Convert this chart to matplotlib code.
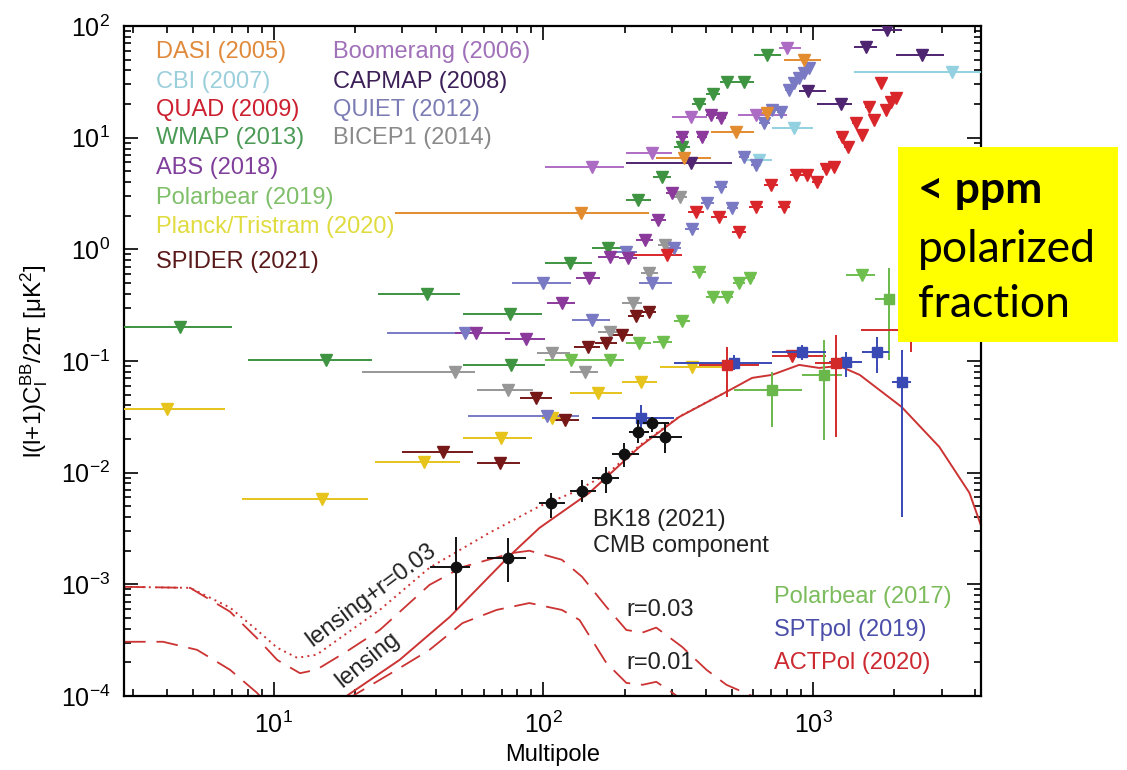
import matplotlib
matplotlib.use("Agg")
import matplotlib.pyplot as plt
import numpy as np
from matplotlib.patches import Rectangle
from matplotlib.ticker import NullFormatter, LogLocator, FixedLocator

plt.rcParams['font.family'] = ['Liberation Sans', 'DejaVu Sans']
plt.rcParams['mathtext.fontset'] = 'custom'
plt.rcParams['mathtext.rm'] = 'Liberation Sans'
plt.rcParams['mathtext.it'] = 'Liberation Sans:italic'
plt.rcParams['mathtext.sf'] = 'Liberation Sans'

# ---------------- upper limits (triangles): ell, D, ell_lo, ell_hi ----------------
WMAP_ell = [4.49, 15.6, 36.9, 74.9, 75.5, 125, 174, 225, 276, 327, 378, 426, 480, 555, 676]
WMAP_D = [0.202, 0.102, 0.399, 0.264, 0.092, 0.755, 1.03, 2.77, 4.45, 8.25, 20.0, 24.6, 31.5, 31.5, 55.0]
WMAP_lo = [2.5, 8.0, 24.3, 50.1, 50.1, 101, 152, 203, 255, 305, 355, 400, 450, 520, 604]
WMAP_hi = [6.98, 23.1, 48.9, 99, 101, 151, 203, 250, 298, 350, 400, 452, 520, 604, 761]

PB19_ell = [127, 176, 227, 278, 327, 378, 426, 480, 532, 584, 1518]
PB19_D = [0.102, 0.102, 0.145, 0.148, 0.229, 0.628, 0.375, 0.375, 0.50, 0.555, 0.59]
PB19_lo = [101, 151, 203, 255, 305, 355, 400, 455, 505, 560, 1324]
PB19_hi = [151, 199, 250, 300, 350, 400, 455, 505, 560, 610, 1700]

PLANCK_ell = [4.02, 15.1, 35.9, 69.3, 108, 160, 231, 356]
PLANCK_D = [0.0372, 0.0058, 0.0125, 0.0205, 0.031, 0.0518, 0.065, 0.0886]
PLANCK_lo = [2.5, 7.6, 23.7, 50.1, 99, 125, 196, 270]
PLANCK_hi = [6.59, 22.3, 48.9, 90.3, 117, 196, 264, 480]

SPIDER_ell = [42.3, 68.7, 94.2, 120, 146, 171, 196, 221, 247]
SPIDER_D = [0.0153, 0.0122, 0.0468, 0.0297, 0.134, 0.145, 0.171, 0.254, 0.275]
SPIDER_lo = [29.8, 56.5, 81.5, 108, 130, 155, 180, 205, 232]
SPIDER_hi = [54.6, 81.5, 108, 135, 162, 188, 214, 236, 262]

BICEP1_ell = [46.8, 73.6, 108, 142, 176, 214, 247, 283, 322]
BICEP1_D = [0.0798, 0.0551, 0.118, 0.0798, 0.182, 0.331, 0.615, 1.09, 2.94]
BICEP1_lo = [21.2, 56.5, 95, 125, 160, 196, 230, 265, 305]
BICEP1_hi = [55.5, 91.1, 125, 160, 192, 232, 265, 303, 340]

QUIET_ell = [51.0, 100, 103, 152, 203, 253, 306, 356, 405, 456, 501, 555, 615, 659, 705, 761, 815, 851, 888, 927, 966]
QUIET_D = [0.178, 0.50, 0.0322, 0.233, 0.948, 0.50, 1.03, 1.52, 2.60, 3.62, 2.35, 6.71, 5.70, 13.5, 17.7, 17.0, 26.7, 30.9, 34.2, 37.9, 42.1]
QUIET_lo = [26.2, 76.7, 52.3, 128, 185, 227, 290, 335, 385, 430, 480, 530, 590, 630, 680, 735, 790, 825, 860, 900, 940]
QUIET_hi = [56, 127, 136, 176, 222, 301, 325, 378, 430, 480, 525, 580, 640, 690, 735, 790, 840, 875, 915, 955, 995]

ABS_ell = [56.0, 85.8, 117, 147, 176, 206, 237, 267, 301, 327, 388, 419, 456]
ABS_D = [0.178, 0.158, 0.331, 0.555, 0.855, 0.838, 1.21, 1.83, 3.20, 10.1, 10.1, 16.0, 15.0]
ABS_lo = [47, 71.7, 103, 132, 160, 190, 220, 250, 285, 310, 370, 400, 437]
ABS_hi = [75, 101, 131, 162, 190, 222, 255, 285, 318, 345, 405, 437, 475]

BOOM_ell = [151, 253, 353, 615, 802]
BOOM_D = [5.47, 7.29, 15.3, 16.0, 63.6]
BOOM_lo = [101, 203, 301, 527, 745]
BOOM_hi = [199, 301, 405, 802, 905]

CAPMAP_ell = [353, 958, 1270, 1570, 1878, 2535]
CAPMAP_D = [5.93, 26.1, 20.0, 64.9, 92.0, 55.0]
CAPMAP_lo = [203, 888, 1030, 1420, 1660, 2028]
CAPMAP_hi = [501, 1117, 1400, 1725, 2136, 3050]

DASI_ell = [138, 333, 519, 676, 927]
DASI_D = [2.12, 6.58, 11.2, 16.6, 49.6]
DASI_lo = [28.1, 262, 419, 640, 781]
DASI_hi = [247, 419, 604, 710, 1070]

CBI_ell = [631, 851, 3275]
CBI_D = [6.31, 12.2, 38.7]
CBI_lo = [555, 705, 1420]
CBI_hi = [705, 1000, 4500]

QUAD_ell = [288, 369, 449, 532, 615, 699, 781, 865, 950, 1035, 1117, 1197, 1280, 1349, 1443, 1518, 1611, 1682, 1785, 1863, 1945, 2028]
QUAD_D = [0.891, 2.16, 1.95, 1.43, 2.40, 3.77, 2.40, 4.63, 4.63, 4.01, 5.25, 5.47, 10.1, 8.25, 13.5, 10.6, 18.8, 14.4, 30.9, 17.7, 20.9, 22.7]
QUAD_lo = [206, 345, 420, 500, 580, 660, 740, 820, 905, 990, 1075, 1160, 1240, 1300, 1400, 1480, 1560, 1640, 1740, 1820, 1900, 1980]
QUAD_hi = [327, 395, 480, 565, 650, 740, 820, 905, 990, 1075, 1160, 1240, 1320, 1400, 1480, 1560, 1640, 1720, 1820, 1900, 1980, 2080]

ACTLIM_ell = [836]
ACTLIM_D = [0.112]
ACTLIM_lo = [705]
ACTLIM_hi = [1117]

# ---------------- detections (squares / circles) ----------------
SPT_ell = [231, 509, 911, 1324, 1725, 2136]
SPT_D = [0.031, 0.096, 0.121, 0.098, 0.121, 0.065]
SPT_xlo = [152, 306, 705, 1143, 1518, 1960]
SPT_xhi = [306, 705, 1117, 1518, 1910, 2300]
SPT_ylo = [0.0242, 0.0832, 0.102, 0.0721, 0.0782, 0.00402]
SPT_yhi = [0.0405, 0.1135, 0.139, 0.121, 0.164, 0.126]

ACT_ell = [480, 1216, 2300]
ACT_D = [0.092, 0.096, 0.19]
ACT_xlo = [378, 1020, 1500]
ACT_xhi = [631, 1400, 3000]
ACT_ylo = [0.0477, 0.0209, 0.12]
ACT_yhi = [0.134, 0.171, 0.28]

PB17_ell = [705, 1099, 1910]
PB17_D = [0.0551, 0.0751, 0.36]
PB17_xlo = [509, 911, 1700]
PB17_xhi = [911, 1280, 1960]
PB17_ylo = [0.0257, 0.0197, 0.102]
PB17_yhi = [0.0798, 0.155, 0.68]

BK_ell = [47.2, 73.6, 107, 139, 170, 199, 225, 253, 283]
BK_D = [1.43e-3, 1.73e-3, 5.37e-3, 6.87e-3, 8.98e-3, 0.0147, 0.0232, 0.0279, 0.0209]
BK_xlo = [37.8, 61.5, 96.6, 125, 152, 179, 208, 233, 247]
BK_xhi = [53.2, 86.5, 120, 156, 191, 227, 247, 293, 327]
BK_ylo = [5.9e-4, 1.05e-3, 3.94e-3, 5.48e-3, 6.59e-3, 0.0113, 0.0185, 0.0232, 0.015]
BK_yhi = [2.66e-3, 2.61e-3, 6.59e-3, 8.6e-3, 0.0113, 0.0185, 0.0297, 0.0316, 0.0279]

# ---------------- theory curves ----------------
LENS_ell = [17.5, 18.6, 29.3, 44.9, 73.6, 96.6, 148, 227, 319, 477, 594, 703, 888, 1053, 1250, 1490, 2130, 2940, 3800, 4190]
LENS_D = [8.8e-5, 1.0e-4, 2.11e-4, 5.1e-4, 1.73e-3, 3.2e-3, 6.6e-3, 0.017, 0.0316, 0.0529, 0.0706, 0.0751, 0.0923, 0.0867, 0.0904, 0.0751, 0.0388, 0.017, 6.6e-3, 3.4e-3]

LR03_ell = [2.78, 4.89, 6.87, 8.65, 10.3, 12.2, 14.4, 18.3, 24.7, 37.8, 63.1, 96.6, 128, 171, 227, 319, 477]
LR03_D = [9.5e-4, 9.3e-4, 6.2e-4, 3.9e-4, 2.7e-4, 2.2e-4, 2.34e-4, 3.53e-4, 5.9e-4, 1.41e-3, 2.9e-3, 5.0e-3, 6.6e-3, 9.6e-3, 0.0175, 0.0318, 0.053]

R03_ell = [2.78, 4.89, 6.87, 8.65, 10.3, 12.5, 14.4, 18.6, 24.7, 37.8, 50.1, 76.8, 88.7, 117, 139, 171, 203, 233, 262, 327, 402, 477, 594, 640]
R03_D = [9.5e-4, 9.3e-4, 5.7e-4, 3.3e-4, 2.1e-4, 1.6e-4, 1.72e-4, 2.5e-4, 3.9e-4, 9.9e-4, 1.43e-3, 1.91e-3, 2.0e-3, 1.66e-3, 1.17e-3, 6.3e-4, 3.9e-4, 3.7e-4, 4.1e-4, 2.75e-4, 1.72e-4, 1.26e-4, 1.0e-4, 8.5e-5]

R01_ell = [2.78, 3.88, 5.19, 6.87, 8.65, 10.5, 13.5, 17.0, 19.6, 28.6, 37.8, 50.1, 67.0, 88.7, 117, 136, 171, 203, 233, 262, 301, 340]
R01_D = [3.06e-4, 3.06e-4, 2.59e-4, 1.72e-4, 1.07e-4, 6.5e-5, 5.0e-5, 7.5e-5, 1.0e-4, 1.72e-4, 2.59e-4, 4.5e-4, 5.9e-4, 6.8e-4, 5.9e-4, 4.8e-4, 1.98e-4, 1.31e-4, 1.26e-4, 1.34e-4, 1.07e-4, 8.5e-5]

# ---------------- legend texts ----------------
LEG_COL1 = ["DASI (2005)", "CBI (2007)", "QUAD (2009)", "WMAP (2013)", "ABS (2018)",
            "Polarbear (2019)", "Planck/Tristram (2020)", "SPIDER (2021)"]
LEG_COL1_C = ["#e08a3c", "#9ccfdc", "#cc2030", "#4b9a55", "#7f3f9a", "#7fbf6a", "#e0dc40", "#5a1a1a"]
LEG_COL2 = ["Boomerang (2006)", "CAPMAP (2008)", "QUIET (2012)", "BICEP1 (2014)"]
LEG_COL2_C = ["#a070b8", "#3e2058", "#7c7cb4", "#8a8a8a"]
LEG_BR = ["Polarbear (2017)", "SPTpol (2019)", "ACTPol (2020)"]
LEG_BR_C = ["#7cbc5c", "#4a4ea8", "#cc2a30"]

XLIM = (2.78, 4190)
YLIM = (1e-4, 1e2)

# ---------------- figure ----------------
fig = plt.figure(figsize=(11.27, 7.70), dpi=100)
ax = fig.add_axes([0.110, 0.0961, 0.7603, 0.8701])
ax.set_xscale('log')
ax.set_yscale('log')
ax.set_xlim(*XLIM)
ax.set_ylim(*YLIM)

th_col = '#cc3333'
ax.plot(LENS_ell, LENS_D, color=th_col, lw=1.4, zorder=2)
ax.plot(LR03_ell, LR03_D, color=th_col, lw=1.4, ls=(0, (1, 2.2)), zorder=2)
ax.plot(R03_ell, R03_D, color=th_col, lw=1.3, ls=(0, (12, 6)), zorder=2)
ax.plot(R01_ell, R01_D, color=th_col, lw=1.3, ls=(0, (12, 6)), zorder=2)


def limits(ell, D, lo, hi, color, z=3):
    ell = np.asarray(ell, float)
    D = np.asarray(D, float)
    lo = np.asarray(lo, float)
    hi = np.asarray(hi, float)
    ax.errorbar(ell, D, xerr=[ell - lo, hi - ell], fmt='none', ecolor=color,
                elinewidth=1.4, capsize=0, zorder=z)
    ax.plot(ell, D, ls='none', marker='v', ms=8.5, color=color, mec=color, zorder=z + 0.1)


def detections(ell, D, xlo, xhi, ylo, yhi, color, marker, ms, z=5):
    ell = np.asarray(ell, float)
    D = np.asarray(D, float)
    ax.errorbar(ell, D, xerr=[ell - np.asarray(xlo), np.asarray(xhi) - ell],
                yerr=[D - np.asarray(ylo), np.asarray(yhi) - D], fmt='none',
                ecolor=color, elinewidth=1.4, capsize=0, zorder=z)
    ax.plot(ell, D, ls='none', marker=marker, ms=ms, color=color, mec=color, zorder=z + 0.1)


limits(WMAP_ell, WMAP_D, WMAP_lo, WMAP_hi, '#3f9442')
limits(PB19_ell, PB19_D, PB19_lo, PB19_hi, '#6fbf4f')
limits(PLANCK_ell, PLANCK_D, PLANCK_lo, PLANCK_hi, '#e6c41c')
limits(BICEP1_ell, BICEP1_D, BICEP1_lo, BICEP1_hi, '#979797')
limits(CBI_ell, CBI_D, CBI_lo, CBI_hi, '#93d1e1')
limits(QUIET_ell, QUIET_D, QUIET_lo, QUIET_hi, '#7a7ac4')
limits(ABS_ell, ABS_D, ABS_lo, ABS_hi, '#8b3a9c')
limits(BOOM_ell, BOOM_D, BOOM_lo, BOOM_hi, '#ad6cc4')
limits(CAPMAP_ell, CAPMAP_D, CAPMAP_lo, CAPMAP_hi, '#4f2470')
limits(DASI_ell, DASI_D, DASI_lo, DASI_hi, '#e38b2f')
limits(SPIDER_ell, SPIDER_D, SPIDER_lo, SPIDER_hi, '#761818')
limits(QUAD_ell, QUAD_D, QUAD_lo, QUAD_hi, '#d9262b')
limits(ACTLIM_ell, ACTLIM_D, ACTLIM_lo, ACTLIM_hi, '#d22a2a')

detections(PB17_ell, PB17_D, PB17_xlo, PB17_xhi, PB17_ylo, PB17_yhi, '#6ab84c', 's', 7)
detections(SPT_ell, SPT_D, SPT_xlo, SPT_xhi, SPT_ylo, SPT_yhi, '#3a4ab4', 's', 7)
detections(ACT_ell, ACT_D, ACT_xlo, ACT_xhi, ACT_ylo, ACT_yhi, '#d22a2a', 's', 7)
detections(BK_ell, BK_D, BK_xlo, BK_xhi, BK_ylo, BK_yhi, '#111111', 'o', 7.5, z=6)

# ---------------- axes styling ----------------
for s in ax.spines.values():
    s.set_linewidth(1.6)
# minor ticks only inside the visible range
x_minor = [m * 10.0 ** k for k in range(0, 4) for m in range(2, 10)
           if XLIM[0] <= m * 10.0 ** k <= XLIM[1]]
y_minor = [m * 10.0 ** k for k in range(-4, 2) for m in range(2, 10)
           if YLIM[0] <= m * 10.0 ** k <= YLIM[1]]
ax.xaxis.set_major_locator(FixedLocator([10, 100, 1000]))
ax.yaxis.set_major_locator(FixedLocator([1e-4, 1e-3, 1e-2, 1e-1, 1, 10, 100]))
ax.xaxis.set_minor_locator(FixedLocator(x_minor))
ax.yaxis.set_minor_locator(FixedLocator(y_minor))
ax.xaxis.set_minor_formatter(NullFormatter())
ax.yaxis.set_minor_formatter(NullFormatter())
ax.tick_params(which='both', direction='in', top=True, right=True, width=1.2)
ax.tick_params(which='major', length=10, labelsize=18)
ax.tick_params(which='minor', length=5)
ax.tick_params(axis='x', which='major', pad=11)
ax.tick_params(axis='y', which='major', pad=10)

ax.set_xlabel('Multipole', fontsize=17)
ax.xaxis.set_label_coords(0.5, -0.072)
ax.set_ylabel(r'l(l+1)C$_\mathregular{l}^\mathregular{BB}$/2π [μK$^\mathregular{2}$]', fontsize=17.5)
ax.yaxis.set_label_coords(-0.086, 0.5)

# ---------------- annotations ----------------
ys1 = [0.961, 0.916, 0.875, 0.833, 0.788, 0.743, 0.700, 0.648]
for t, c, y in zip(LEG_COL1, LEG_COL1_C, ys1):
    ax.text(0.0373, y, t, color=c, fontsize=17, transform=ax.transAxes, va='center', ha='left')
for t, c, y in zip(LEG_COL2, LEG_COL2_C, ys1[:4]):
    ax.text(0.2436, y, t, color=c, fontsize=17, transform=ax.transAxes, va='center', ha='left')
for t, c, y in zip(LEG_BR, LEG_BR_C, [0.148, 0.0985, 0.049]):
    ax.text(0.759, y, t, color=c, fontsize=17, transform=ax.transAxes, va='center', ha='left')

ax.text(0.547, 0.263, 'BK18 (2021)', color='#222222', fontsize=17, transform=ax.transAxes, va='center')
ax.text(0.547, 0.224, 'CMB component', color='#222222', fontsize=17, transform=ax.transAxes, va='center')
ax.text(0.586, 0.128, 'r=0.03', color='#222222', fontsize=17, transform=ax.transAxes, va='center')
ax.text(0.586, 0.049, 'r=0.01', color='#222222', fontsize=17, transform=ax.transAxes, va='center')
ax.text(0.288, 0.151, 'lensing+r=0.03', color='#222222', fontsize=17, transform=ax.transAxes,
        va='center', ha='center', rotation=37, rotation_mode='anchor')
ax.text(0.284, 0.054, 'lensing', color='#222222', fontsize=17, transform=ax.transAxes,
        va='center', ha='center', rotation=39, rotation_mode='anchor')

# ---------------- yellow call-out box ----------------
fig.add_artist(Rectangle((0.797, 0.556), 0.195, 0.253, transform=fig.transFigure,
                         facecolor='#ffff00', edgecolor='none', zorder=10))
fig.text(0.8146, 0.7364, '< ppm', fontsize=32, fontweight='bold', family=['Lato', 'DejaVu Sans'],
         va='baseline', ha='left', zorder=11)
fig.text(0.8146, 0.6597, 'polarized', fontsize=32, family=['Lato', 'DejaVu Sans'],
         va='baseline', ha='left', zorder=11)
fig.text(0.8146, 0.5883, 'fraction', fontsize=32, family=['Lato', 'DejaVu Sans'],
         va='baseline', ha='left', zorder=11)

fig.savefig('out.png', dpi=100)
